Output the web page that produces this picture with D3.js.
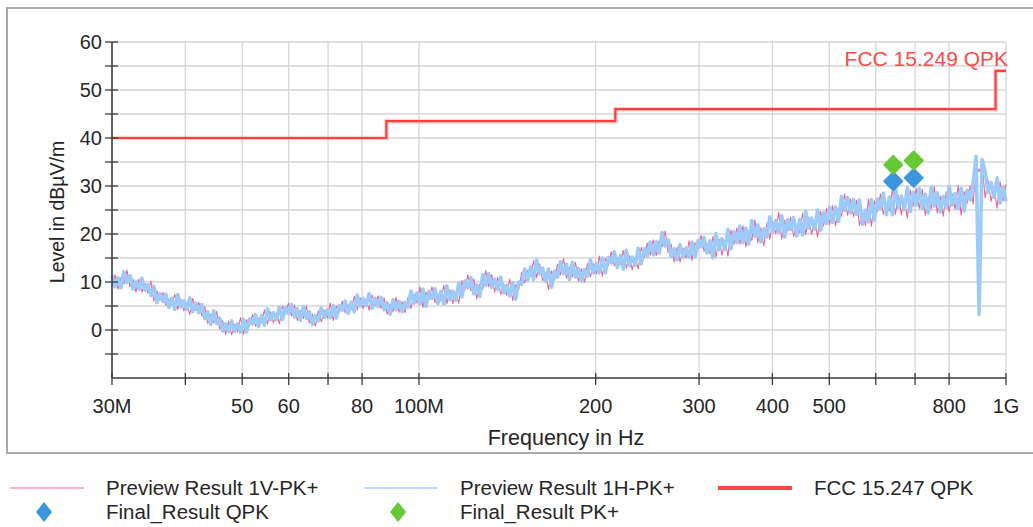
<!DOCTYPE html>
<html>
<head>
<meta charset="utf-8">
<script src="https://cdn.jsdelivr.net/npm/d3@7"></script>
<style>
  html, body { margin: 0; padding: 0; background: #ffffff; }
  svg { display: block; font-family: "Liberation Sans", Arial, sans-serif; }
</style>
</head>
<body>
<svg id="chart" width="1033" height="527"></svg>
<script>
// Receiver sweep: 300 log-spaced points from 30 MHz to 1 GHz
const sweepStartHz = 30e6;
const sweepStopHz = 1e9;
const sweepPoints = 300;

// Preview Result 1V-PK+ (dBµV/m), one value per sweep point
const preview1V = [
  9.0, 11.5, 8.5, 10.9, 9.6, 12.5, 9.0, 10.6, 7.9, 10.6,
  7.9, 9.8, 7.7, 10.2, 6.0, 8.2, 6.2, 7.8, 5.1, 6.4,
  5.1, 7.5, 4.3, 6.5, 4.0, 5.7, 3.2, 6.6, 4.1, 5.8,
  3.0, 4.9, 1.4, 3.3, 1.5, 3.9, 0.2, 1.9, -0.9, 1.8,
  -1.0, 1.2, -0.4, 2.6, -0.9, 2.1, 0.9, 3.2, 0.8, 2.4,
  1.5, 4.2, 1.3, 3.8, 1.5, 3.5, 1.3, 5.0, 3.2, 5.6,
  3.0, 5.2, 2.0, 4.1, 2.4, 5.0, 1.5, 3.3, 0.8, 4.0,
  1.7, 4.1, 2.5, 5.6, 2.0, 5.0, 3.7, 6.0, 3.6, 5.2,
  4.3, 7.0, 4.2, 6.7, 4.5, 6.5, 4.1, 7.3, 5.1, 7.1,
  4.5, 6.7, 3.3, 5.4, 3.8, 6.8, 3.7, 5.9, 3.6, 6.8,
  4.5, 7.5, 5.6, 9.0, 4.7, 7.9, 6.3, 9.0, 5.7, 7.5,
  6.1, 9.3, 5.5, 8.4, 5.5, 7.9, 5.6, 10.3, 8.3, 11.5,
  8.2, 10.6, 6.5, 9.6, 8.5, 12.4, 9.0, 11.5, 7.9, 11.0,
  7.4, 9.6, 7.2, 10.6, 6.1, 9.4, 8.3, 11.9, 9.8, 12.4,
  11.2, 14.4, 10.9, 13.8, 10.3, 11.9, 8.4, 12.3, 10.4, 13.7,
  11.5, 14.9, 10.8, 13.1, 11.1, 14.1, 10.1, 12.8, 9.9, 13.8,
  11.0, 13.8, 11.7, 15.4, 11.2, 14.9, 13.4, 16.3, 13.4, 15.0,
  13.6, 16.6, 12.9, 15.5, 12.6, 15.2, 12.7, 17.2, 15.0, 18.1,
  15.6, 18.8, 15.5, 18.6, 17.3, 20.6, 16.1, 17.9, 14.2, 17.2,
  14.2, 17.0, 15.0, 18.6, 14.5, 18.2, 16.9, 19.7, 16.4, 18.0,
  15.9, 19.5, 15.2, 19.0, 15.6, 18.6, 15.4, 20.8, 17.8, 21.3,
  17.9, 21.7, 17.3, 20.7, 18.7, 22.9, 18.2, 21.3, 17.5, 22.3,
  18.9, 22.5, 20.0, 24.5, 18.9, 22.9, 20.6, 23.5, 19.5, 21.8,
  20.3, 24.3, 19.9, 23.5, 19.9, 22.8, 19.4, 24.7, 21.7, 25.3,
  21.9, 25.9, 21.7, 25.4, 23.7, 28.3, 23.9, 27.3, 23.6, 27.0,
  21.8, 24.3, 21.8, 27.3, 21.6, 26.9, 24.6, 28.3, 24.1, 26.6,
  24.8, 29.2, 24.1, 28.1, 24.0, 27.2, 23.3, 29.2, 25.8, 29.5,
  25.3, 29.3, 23.9, 27.7, 25.2, 29.9, 24.4, 27.9, 23.7, 28.8,
  24.6, 28.3, 25.2, 30.1, 23.9, 28.8, 26.4, 30.1, 26.2, 34.5,
  33.0, 34.8, 27.5, 31.3, 26.8, 29.7, 25.4, 30.9, 26.9, 30.3
];

// Preview Result 1H-PK+ (dBµV/m), one value per sweep point
const preview1H = [
  11.3, 9.0, 10.9, 8.8, 12.1, 9.9, 11.3, 8.5, 10.1, 8.5,
  10.8, 8.3, 9.4, 7.2, 9.1, 5.7, 7.6, 5.9, 7.5, 4.7,
  6.6, 4.3, 7.4, 4.8, 6.1, 4.3, 6.7, 3.8, 5.6, 3.6,
  5.3, 2.4, 3.8, 1.2, 4.0, 1.3, 2.5, -0.2, 1.3, -0.3,
  1.9, -0.3, 1.3, -0.4, 2.2, -0.4, 2.3, 1.3, 3.2, 0.7,
  3.0, 1.0, 4.4, 2.1, 3.6, 2.1, 4.8, 2.2, 4.7, 3.4,
  5.3, 2.7, 4.4, 2.0, 4.9, 2.4, 3.8, 1.2, 3.0, 1.9,
  4.6, 2.6, 4.2, 2.6, 5.1, 2.5, 5.1, 4.1, 6.0, 3.5,
  5.8, 3.8, 7.3, 5.0, 6.6, 5.1, 7.6, 4.5, 6.6, 4.9,
  6.8, 4.2, 5.7, 3.3, 6.3, 4.2, 6.0, 3.8, 5.8, 4.7,
  8.1, 5.6, 7.7, 5.5, 8.5, 4.9, 8.0, 6.6, 8.6, 5.5,
  8.0, 5.4, 9.2, 6.3, 8.1, 6.2, 9.9, 6.9, 10.2, 8.8,
  10.9, 7.5, 9.4, 7.0, 11.5, 9.3, 11.7, 8.9, 10.6, 8.4,
  11.0, 7.7, 9.3, 7.1, 9.9, 6.4, 10.0, 9.5, 12.7, 10.4,
  13.1, 10.5, 14.6, 11.7, 12.9, 10.2, 12.7, 8.9, 12.3, 11.0,
  14.2, 11.8, 13.7, 10.5, 14.1, 11.0, 12.8, 10.2, 12.6, 11.2,
  14.6, 11.9, 13.8, 11.9, 15.0, 11.9, 15.1, 13.9, 16.3, 13.0,
  15.5, 12.7, 16.6, 13.4, 15.2, 13.5, 17.0, 13.8, 16.9, 15.4,
  18.3, 15.7, 18.4, 16.0, 20.3, 17.5, 18.8, 15.3, 16.9, 14.6,
  17.8, 15.1, 17.1, 15.1, 18.3, 15.2, 18.6, 17.3, 19.3, 16.0,
  18.6, 15.0, 20.1, 16.7, 19.0, 16.8, 21.0, 16.9, 20.5, 18.2,
  21.6, 18.2, 21.2, 17.9, 22.8, 19.5, 21.9, 18.4, 21.1, 19.4,
  23.6, 20.4, 22.8, 20.4, 23.8, 19.4, 23.0, 20.9, 23.4, 19.6,
  23.0, 19.8, 24.8, 21.2, 23.3, 21.0, 25.0, 20.8, 24.4, 22.2,
  25.6, 22.4, 25.6, 22.6, 27.8, 24.9, 27.6, 24.4, 27.2, 24.1,
  27.1, 22.0, 25.0, 22.5, 27.2, 22.9, 27.3, 25.3, 28.5, 24.0,
  27.7, 24.0, 29.7, 25.5, 27.9, 25.1, 29.6, 24.7, 28.7, 26.0,
  29.5, 25.3, 28.3, 24.4, 29.8, 25.8, 28.6, 24.6, 27.8, 25.5,
  29.9, 26.0, 28.4, 25.3, 29.5, 24.8, 29.1, 27.1, 30.6, 36.2,
  3.2, 35.5, 33.1, 28.7, 30.7, 27.6, 31.7, 26.4, 29.8, 26.8
];

// FCC 15.249 quasi-peak limit, stepped
const limitFreqMHz = [30, 88, 88, 216, 216, 960, 960, 1000];
const limitLevel = [40, 40, 43.5, 43.5, 46, 46, 54, 54];
const limitLabel = "FCC 15.249 QPK";

// Final measurements
const finalFreqMHz = [642.6, 696.3];
const finalQPK = [31.0, 31.7];
const finalPK = [34.4, 35.3];

// Axis ticks
const xTickMHz = [30, 40, 50, 60, 70, 80, 100, 200, 300, 400, 500, 600, 700, 800, 1000];
const xTickLabels = { 30: "30M", 50: "50", 60: "60", 80: "80", 100: "100M", 200: "200", 300: "300", 400: "400", 500: "500", 800: "800", 1000: "1G" };
const yTickMajor = [0, 10, 20, 30, 40, 50, 60];
const yTickMinor = [-5, 5, 15, 25, 35, 45, 55];

// Legend entries
const legendRows = [
  { kind: "line", label: "Preview Result 1V-PK+", color: "#ffb3c9", width: 2, x: 10, y: 488 },
  { kind: "line", label: "Preview Result 1H-PK+", color: "#b9dcfd", width: 2, x: 364, y: 488 },
  { kind: "line", label: "FCC 15.247 QPK", color: "#ff4646", width: 4, x: 718, y: 488 },
  { kind: "diamond", label: "Final_Result QPK", color: "#3a96dd", x: 10, y: 512 },
  { kind: "diamond", label: "Final_Result PK+", color: "#66c832", x: 364, y: 512 }
];

const svg = d3.select("#chart");
const W = 1033;

// Outer frame of the chart panel
svg.append("rect")
  .attr("x", 7).attr("y", 8).attr("width", W + 10).attr("height", 445)
  .attr("fill", "#ffffff").attr("stroke", "#a9a9a9").attr("stroke-width", 2);

const x = d3.scaleLog().domain([sweepStartHz, sweepStopHz]).range([112, 1006]);
const y = d3.scaleLinear().domain([-10, 60]).range([378, 42]);

const freqs = d3.range(sweepPoints).map(i =>
  sweepStartHz * Math.pow(sweepStopHz / sweepStartHz, i / (sweepPoints - 1)));

// Grid
const grid = svg.append("g").attr("stroke", "#d6d6d6").attr("stroke-width", 1.3);
grid.selectAll("line.v").data(xTickMHz).join("line")
  .attr("x1", d => x(d * 1e6)).attr("x2", d => x(d * 1e6))
  .attr("y1", y(60)).attr("y2", y(-10));
grid.selectAll("line.h").data(yTickMajor.concat(yTickMinor)).join("line")
  .attr("x1", x(sweepStartHz)).attr("x2", x(sweepStopHz))
  .attr("y1", d => y(d)).attr("y2", d => y(d));

// Traces
const line = d3.line().x((d, i) => x(freqs[i])).y(d => y(d));
svg.append("path").datum(preview1V)
  .attr("d", line).attr("fill", "none")
  .attr("stroke", "#f2628f").attr("stroke-width", 1.1).attr("stroke-linejoin", "round");
svg.append("path").datum(preview1H)
  .attr("d", line).attr("fill", "none")
  .attr("stroke", "#9ccbfa").attr("stroke-width", 3.6).attr("stroke-linejoin", "round");

// Limit line
const limitLine = d3.line().x(d => x(d[0] * 1e6)).y(d => y(d[1]));
svg.append("path").datum(limitFreqMHz.map((f, i) => [f, limitLevel[i]]))
  .attr("d", limitLine).attr("fill", "none")
  .attr("stroke", "#ff8080").attr("stroke-width", 4.5).attr("stroke-opacity", 0.35);
svg.append("path").datum(limitFreqMHz.map((f, i) => [f, limitLevel[i]]))
  .attr("d", limitLine).attr("fill", "none")
  .attr("stroke", "#ff3e3e").attr("stroke-width", 2.2);
svg.append("text")
  .attr("x", x(limitFreqMHz[limitFreqMHz.length - 1] * 1e6) + 2)
  .attr("y", 66)
  .attr("text-anchor", "end").attr("font-size", 21).attr("fill", "#ff4a4a")
  .text(limitLabel);

// Final result markers
function diamond(cx, cy, hw, hh) {
  return `M${cx},${cy - hh}L${cx + hw},${cy}L${cx},${cy + hh}L${cx - hw},${cy}Z`;
}
const markers = svg.append("g");
markers.selectAll("path.qpk").data(finalFreqMHz).join("path")
  .attr("d", (d, i) => diamond(x(d * 1e6), y(finalQPK[i]), 9, 9))
  .attr("fill", "#3a96dd").attr("stroke", "#3a96dd").attr("stroke-width", 2)
  .attr("stroke-linejoin", "round");
markers.selectAll("path.pk").data(finalFreqMHz).join("path")
  .attr("d", (d, i) => diamond(x(d * 1e6), y(finalPK[i]), 9, 9))
  .attr("fill", "#66c832").attr("stroke", "#66c832").attr("stroke-width", 2)
  .attr("stroke-linejoin", "round");

// Axes
const axisColor = "#3a3a3a";
const textColor = "#262626";
svg.append("line").attr("x1", 112).attr("x2", 112).attr("y1", y(60)).attr("y2", y(-10))
  .attr("stroke", axisColor).attr("stroke-width", 1.5);
svg.append("line").attr("x1", x(sweepStartHz)).attr("x2", x(sweepStopHz)).attr("y1", y(-10)).attr("y2", y(-10))
  .attr("stroke", axisColor).attr("stroke-width", 1.5);

svg.selectAll("line.yt").data(yTickMajor.concat(yTickMinor)).join("line")
  .attr("x1", 105).attr("x2", 118)
  .attr("y1", d => y(d)).attr("y2", d => y(d))
  .attr("stroke", axisColor).attr("stroke-width", 1.3);
svg.selectAll("text.yl").data(yTickMajor).join("text")
  .attr("x", 102).attr("y", d => y(d)).attr("dy", "0.36em")
  .attr("text-anchor", "end").attr("font-size", 20).attr("fill", textColor)
  .text(d => d);

svg.selectAll("line.xt").data(xTickMHz).join("line")
  .attr("x1", d => x(d * 1e6)).attr("x2", d => x(d * 1e6))
  .attr("y1", y(-10) - 5).attr("y2", y(-10) + 7)
  .attr("stroke", axisColor).attr("stroke-width", 1.3);
svg.selectAll("text.xl").data(xTickMHz.filter(d => xTickLabels[d])).join("text")
  .attr("x", d => x(d * 1e6)).attr("y", 413)
  .attr("text-anchor", "middle").attr("font-size", 20).attr("fill", textColor)
  .text(d => xTickLabels[d]);

svg.append("text")
  .attr("x", 566).attr("y", 445)
  .attr("text-anchor", "middle").attr("font-size", 21.5).attr("fill", textColor)
  .text("Frequency in Hz");
svg.append("text")
  .attr("transform", "translate(64,212) rotate(-90)")
  .attr("text-anchor", "middle").attr("font-size", 19.5).attr("fill", textColor)
  .text("Level in dBµV/m");

// Legend
const legend = svg.append("g");
legendRows.forEach(r => {
  if (r.kind === "line") {
    legend.append("line")
      .attr("x1", r.x).attr("x2", r.x + 74).attr("y1", r.y).attr("y2", r.y)
      .attr("stroke", r.color).attr("stroke-width", r.width);
  } else {
    legend.append("path")
      .attr("d", diamond(r.x + 34, r.y, 8, 10))
      .attr("fill", r.color);
  }
  legend.append("text")
    .attr("x", r.x + 96).attr("y", r.y + 7)
    .attr("font-size", 20.5).attr("fill", textColor)
    .text(r.label);
});
</script>
</body>
</html>
